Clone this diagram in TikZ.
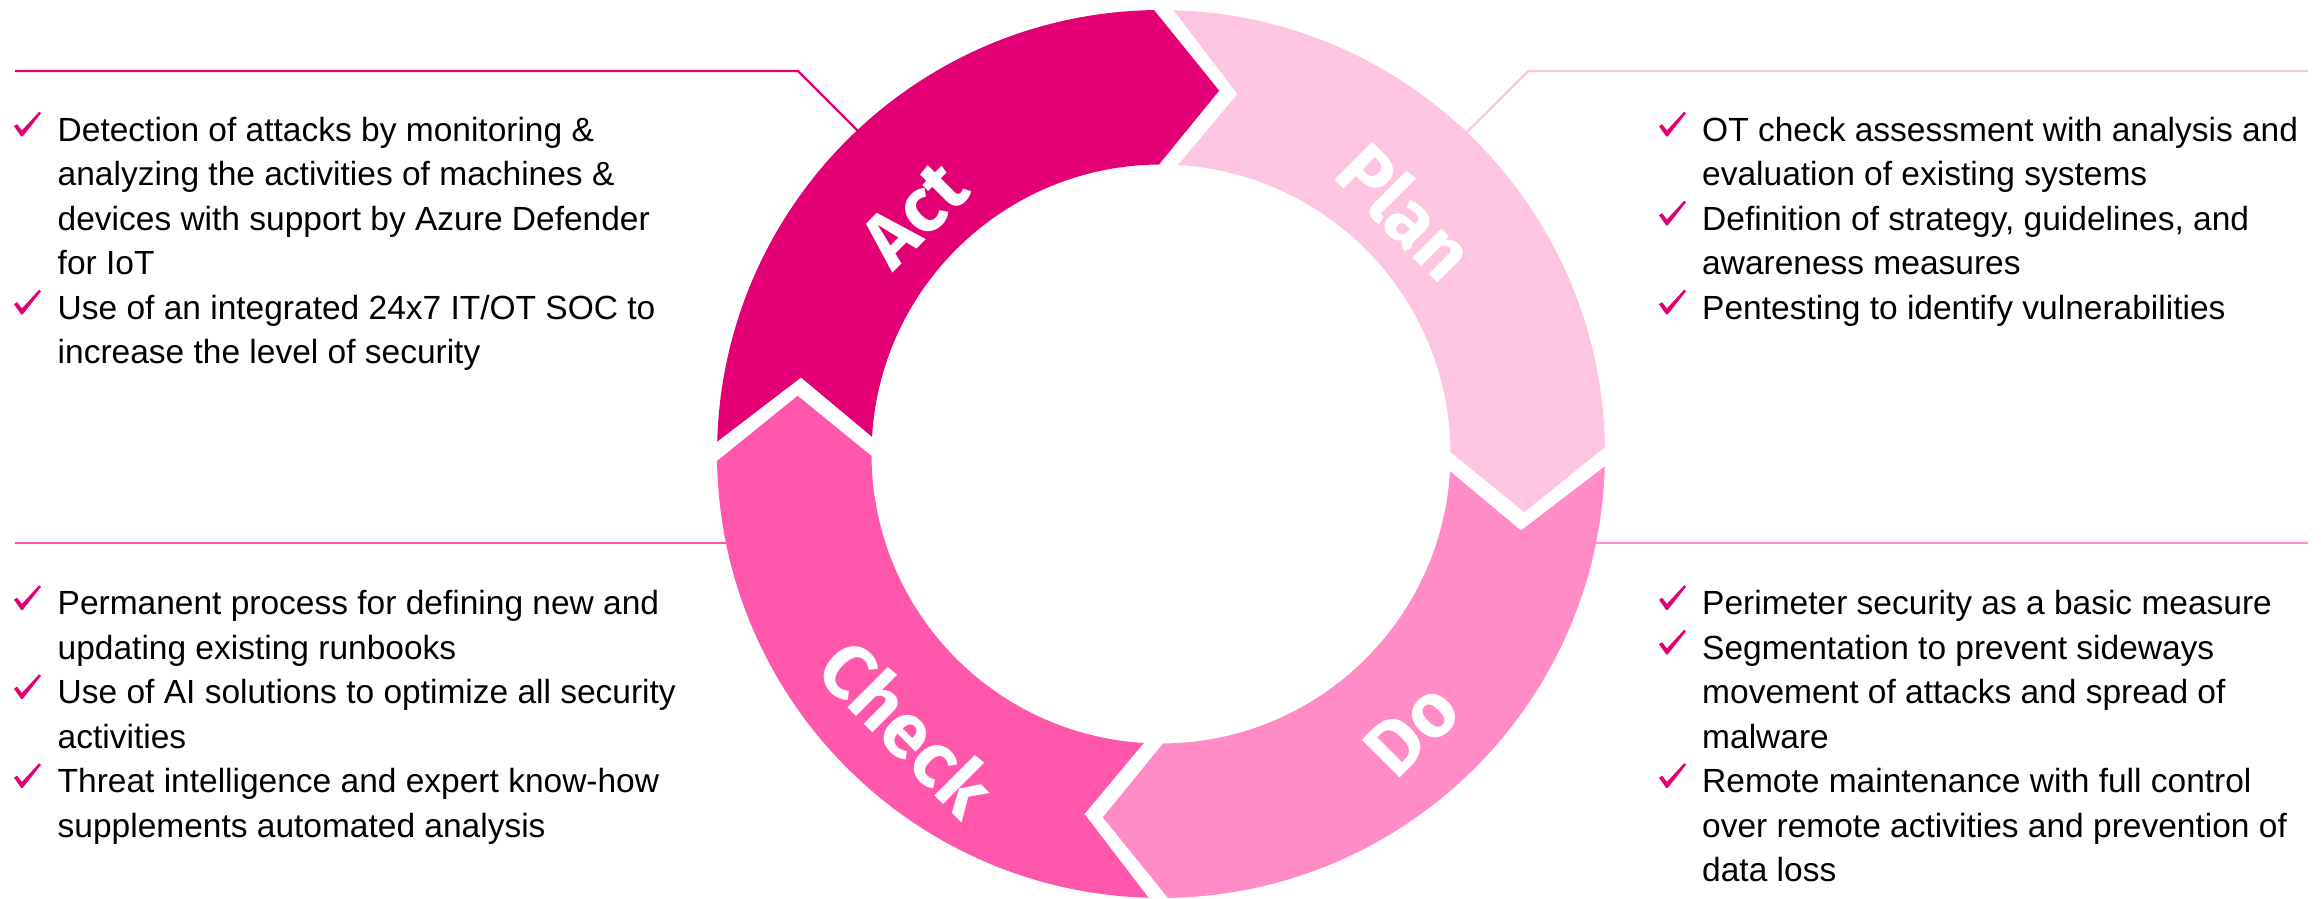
\documentclass[tikz,border=0pt]{standalone}
\usepackage{fontspec}
\setmainfont{Liberation Sans}
\newfontfamily\labfont{Fira Sans}
\definecolor{actc}{HTML}{E20074}
\definecolor{planc}{HTML}{FDC5E1}
\definecolor{doclr}{HTML}{FF8CC6}
\definecolor{checkc}{HTML}{FF57AB}
% #1 colour, #2 trailing boundary angle, #3 leading boundary angle
\newcommand\ringseg[3]{%
  \fill[#1] ([shift={({#2-1.6}:444)}]C) arc[start angle={#2-1.6}, end angle={#3+0.9}, radius=444]
    -- ([shift={({#3-9.1}:368)}]C) -- ([shift={({#3+0.4}:289.5)}]C)
    arc[start angle={#3+0.4}, end angle={#2-3.4}, radius=289.5]
    -- ([shift={({#2-12}:368)}]C) -- cycle;}
\tikzset{
  txt/.style={anchor=base west, inner sep=0pt, font=\fontsize{33.5}{44.5}\selectfont, text=black},
  lab/.style={inner sep=0pt, text=white, font={\labfont\bfseries\fontsize{77}{80}\selectfont}},
  conn/.style={line width=2.3pt},
  chk/.pic={\fill[actc] (-7.5,9.8) -- (-4.4,11.8) -- (0.4,5.6) -- (17.6,24.2) -- (19.6,22.8) -- (1.2,-0.4) -- (-0.4,-0.4) -- cycle;}
}
\begin{document}
\begin{tikzpicture}[x=1pt,y=1pt]
\useasboundingbox (0,0) rectangle (2321,899);
\coordinate (C) at (1161,445);
% connector lines
\coordinate (aL) at (15,828);
\coordinate (aK) at (798,828);
\coordinate (aR) at (866,760);
\coordinate (pL) at (2308,828);
\coordinate (pK) at (1528.3,828);
\coordinate (pR) at (1458,758);
\coordinate (cL) at (15,356);
\coordinate (cR) at (745,356);
\coordinate (dL) at (1580,356);
\coordinate (dR) at (2308,356);
\draw[conn, actc] (aL) -- (aK) -- (aR);
\draw[conn, planc] (pL) -- (pK) -- (pR);
\draw[conn, checkc] (cL) -- (cR);
\draw[conn, doclr] (dL) -- (dR);
% ring
\ringseg{actc}{180}{90}
\ringseg{planc}{90}{0}
\ringseg{doclr}{0}{-90}
\ringseg{checkc}{-90}{-180}
% ring labels
\node[lab, rotate=45] (actlab) at (914.8,684.8) {Act};
\node[lab, rotate=-45] (planlab) at (1406,688.3) {Plan};
\node[lab, rotate=45] (dolab) at (1412,169.5) {Do};
\node[lab, rotate=-45] (checklab) at (908,171.3) {Check};
% left top block
\pic at (21.5,763) {chk};
\pic at (21.5,585) {chk};
\node[txt] (t1) at (57.5,757.5) {Detection of attacks by monitoring \&};
\node[txt] (t2) at (57.5,713) {analyzing the activities of machines \&};
\node[txt] (t3) at (57.5,668.5) {devices with support by Azure Defender};
\node[txt] (t4) at (57.5,624) {for IoT};
\node[txt] (t5) at (57.5,579.5) {Use of an integrated 24x7 IT/OT SOC to};
\node[txt] (t6) at (57.5,535) {increase the level of security};
% right top block
\pic at (1666.5,763) {chk};
\pic at (1666.5,674) {chk};
\pic at (1666.5,585) {chk};
\node[txt] (t7) at (1702,757.5) {OT check assessment with analysis and};
\node[txt] (t8) at (1702,713) {evaluation of existing systems};
\node[txt] (t9) at (1702,668.5) {Definition of strategy, guidelines, and};
\node[txt] (t10) at (1702,624) {awareness measures};
\node[txt] (t11) at (1702,579.5) {Pentesting to identify vulnerabilities};
% left bottom block
\pic at (21.5,289.5) {chk};
\pic at (21.5,200.5) {chk};
\pic at (21.5,111.5) {chk};
\node[txt] (t12) at (57.5,284) {Permanent process for defining new and};
\node[txt] (t13) at (57.5,239.5) {updating existing runbooks};
\node[txt] (t14) at (57.5,195) {Use of AI solutions to optimize all security};
\node[txt] (t15) at (57.5,150.5) {activities};
\node[txt] (t16) at (57.5,106) {Threat intelligence and expert know-how};
\node[txt] (t17) at (57.5,61.5) {supplements automated analysis};
% right bottom block
\pic at (1666.5,289.5) {chk};
\pic at (1666.5,245) {chk};
\pic at (1666.5,111.5) {chk};
\node[txt] (t18) at (1702,284) {Perimeter security as a basic measure};
\node[txt] (t19) at (1702,239.5) {Segmentation to prevent sideways};
\node[txt] (t20) at (1702,195) {movement of attacks and spread of};
\node[txt] (t21) at (1702,150.5) {malware};
\node[txt] (t22) at (1702,106) {Remote maintenance with full control};
\node[txt] (t23) at (1702,61.5) {over remote activities and prevention of};
\node[txt] (t24) at (1702,17) {data loss};
\end{tikzpicture}
\end{document}
